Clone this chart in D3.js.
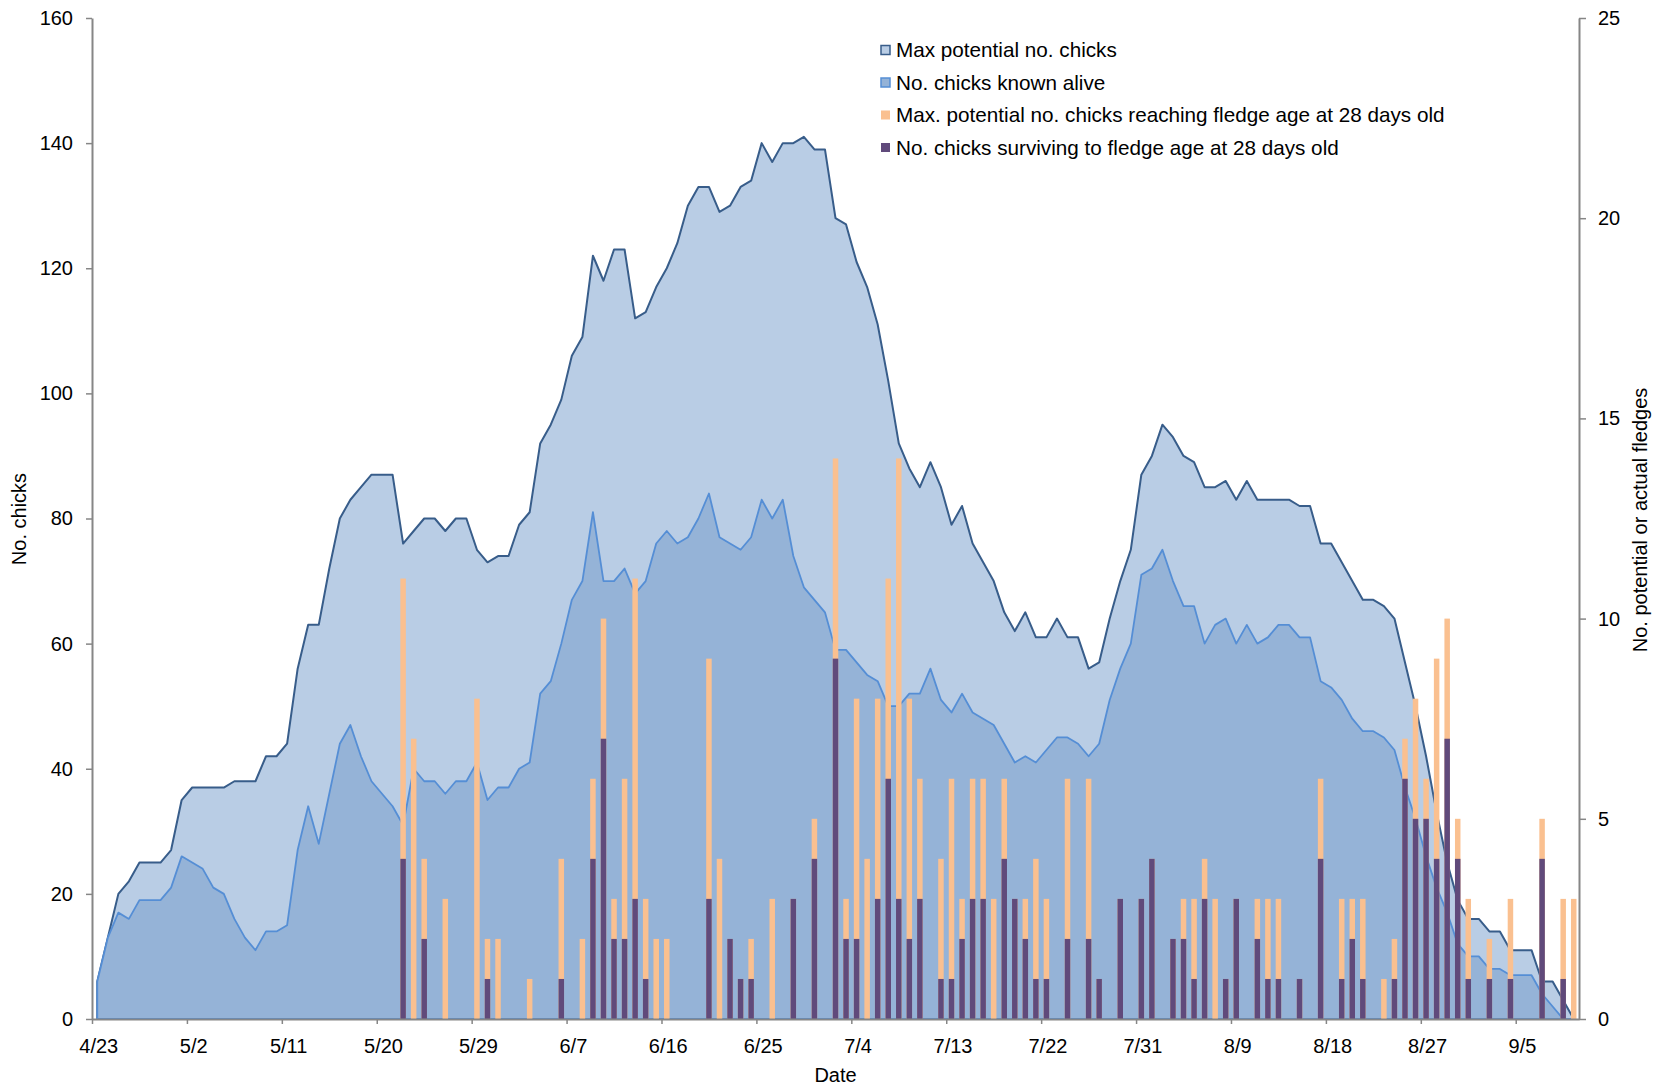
<!DOCTYPE html>
<html>
<head>
<meta charset="utf-8">
<script src="https://cdn.jsdelivr.net/npm/d3@7"></script>
<style>
  body { margin: 0; background: #fff; }
  text { font-family: Arial, "Liberation Sans", sans-serif; }
</style>
</head>
<body>
<script>
var svgWidth = 1662;
var svgHeight = 1087;

// one value per day, 4/23 .. 9/10
var maxChicks = [
  6, 13, 20, 22, 25, 25, 25, 27, 35, 37, 37, 37, 37, 38, 38, 38, 42, 42, 44, 56,
  63, 63, 72, 80, 83, 85, 87, 87, 87, 76, 78, 80, 80, 78, 80, 80, 75, 73, 74, 74,
  79, 81, 92, 95, 99, 106, 109, 122, 118, 123, 123, 112, 113, 117, 120, 124, 130, 133, 133, 129,
  130, 133, 134, 140, 137, 140, 140, 141, 139, 139, 128, 127, 121, 117, 111, 102, 92, 88, 85, 89,
  85, 79, 82, 76, 73, 70, 65, 62, 65, 61, 61, 64, 61, 61, 56, 57, 64, 70, 75, 87,
  90, 95, 93, 90, 89, 85, 85, 86, 83, 86, 83, 83, 83, 83, 82, 82, 76, 76, 73, 70,
  67, 67, 66, 64, 57, 50, 42, 33, 25, 19, 16, 16, 14, 14, 11, 11, 11, 6, 6, 3, 0
];
var aliveChicks = [
  6, 13, 17, 16, 19, 19, 19, 21, 26, 25, 24, 21, 20, 16, 13, 11, 14, 14, 15, 27,
  34, 28, 36, 44, 47, 42, 38, 36, 34, 31, 40, 38, 38, 36, 38, 38, 41, 35, 37, 37,
  40, 41, 52, 54, 60, 67, 70, 81, 70, 70, 72, 68, 70, 76, 78, 76, 77, 80, 84, 77,
  76, 75, 77, 83, 80, 83, 74, 69, 67, 65, 59, 59, 57, 55, 54, 50, 50, 52, 52, 56,
  51, 49, 52, 49, 48, 47, 44, 41, 42, 41, 43, 45, 45, 44, 42, 44, 51, 56, 60, 71,
  72, 75, 70, 66, 66, 60, 63, 64, 60, 63, 60, 61, 63, 63, 61, 61, 54, 53, 51, 48,
  46, 46, 45, 43, 37, 32, 26, 21, 17, 12, 10, 10, 8, 8, 7, 7, 7, 4, 2, 0, 0
];
var fledgeMax = [
  0, 0, 0, 0, 0, 0, 0, 0, 0, 0, 0, 0, 0, 0, 0, 0, 0, 0, 0, 0,
  0, 0, 0, 0, 0, 0, 0, 0, 0, 11, 7, 4, 0, 3, 0, 0, 8, 2, 2, 0,
  0, 1, 0, 0, 4, 0, 2, 6, 10, 3, 6, 11, 3, 2, 2, 0, 0, 0, 9, 4,
  2, 1, 2, 0, 3, 0, 3, 0, 5, 0, 14, 3, 8, 4, 8, 11, 14, 8, 6, 0,
  4, 6, 3, 6, 6, 3, 6, 3, 3, 4, 3, 0, 6, 0, 6, 1, 0, 3, 0, 3,
  4, 0, 2, 3, 3, 4, 3, 1, 3, 0, 3, 3, 3, 0, 1, 0, 6, 0, 3, 3,
  3, 0, 1, 2, 7, 8, 6, 9, 10, 5, 3, 0, 2, 0, 3, 0, 0, 5, 0, 3, 3
];
var fledgeActual = [
  0, 0, 0, 0, 0, 0, 0, 0, 0, 0, 0, 0, 0, 0, 0, 0, 0, 0, 0, 0,
  0, 0, 0, 0, 0, 0, 0, 0, 0, 4, 0, 2, 0, 0, 0, 0, 0, 1, 0, 0,
  0, 0, 0, 0, 1, 0, 0, 4, 7, 2, 2, 3, 1, 0, 0, 0, 0, 0, 3, 0,
  2, 1, 1, 0, 0, 0, 3, 0, 4, 0, 9, 2, 2, 0, 3, 6, 3, 2, 3, 0,
  1, 1, 2, 3, 3, 0, 4, 3, 2, 1, 1, 0, 2, 0, 2, 1, 0, 3, 0, 3,
  4, 0, 2, 2, 1, 3, 0, 1, 3, 0, 2, 1, 1, 0, 1, 0, 4, 0, 1, 2,
  1, 0, 0, 1, 6, 5, 5, 4, 7, 4, 1, 0, 1, 0, 1, 0, 0, 4, 0, 1, 0
];
var tickLabels = ["4/23", "5/2", "5/11", "5/20", "5/29", "6/7", "6/16", "6/25",
  "7/4", "7/13", "7/22", "7/31", "8/9", "8/18", "8/27", "9/5"];
var leftTicks = [0, 20, 40, 60, 80, 100, 120, 140, 160];
var rightTicks = [0, 5, 10, 15, 20, 25];
var legendNames = ["Max potential no. chicks", "No. chicks known alive",
  "Max. potential no. chicks reaching fledge age at 28 days old",
  "No. chicks surviving to fledge age at 28 days old"];

var startDate = new Date(Date.UTC(2010, 3, 23));
var endDate = new Date(Date.UTC(2010, 8, 11));
var days = d3.utcDay.range(startDate, endDate);

var plotLeft = 92, plotRight = 1579, plotTop = 18, plotBottom = 1019;

var svg = d3.select("body").append("svg").attr("width", svgWidth).attr("height", svgHeight);

var x = d3.scaleUtc().domain([startDate, endDate]).range([plotLeft, plotRight]);
var yLeft = d3.scaleLinear().domain([0, 160]).range([plotBottom, plotTop]);
var yRight = d3.scaleLinear().domain([0, 25]).range([plotBottom, plotTop]);

// categories sit in the middle of each day
function cx(i) { return x(d3.utcHour.offset(days[i], 12)); }
var halfDay = cx(0) - plotLeft;

var area = d3.area()
  .x(function(d, i) { return cx(i); })
  .y0(yLeft(0))
  .y1(function(d) { return yLeft(d); });

// max potential
svg.append("path")
  .attr("d", area(maxChicks))
  .attr("fill", "#b9cde5")
  .attr("stroke", "#385d8a")
  .attr("stroke-width", 2)
  .attr("stroke-linejoin", "round");

// known alive
svg.append("path")
  .attr("d", area(aliveChicks))
  .attr("fill", "#95b3d7")
  .attr("stroke", "#558ed5")
  .attr("stroke-width", 1.8)
  .attr("stroke-linejoin", "round");

// fledge bars, actual drawn over potential
var barW = 5.5;
var bars = svg.append("g");
[[fledgeMax, "#fac090"], [fledgeActual, "#604a7b"]].forEach(function(s) {
  s[0].forEach(function(v, i) {
    if (v > 0) {
      bars.append("rect")
        .attr("x", cx(i) - barW / 2)
        .attr("y", yRight(v))
        .attr("width", barW)
        .attr("height", yRight(0) - yRight(v))
        .attr("fill", s[1]);
    }
  });
});

// axes
var xAxis = d3.axisBottom(x)
  .tickValues(tickLabels.map(function(t, k) { return days[k * 9]; }))
  .tickFormat(function(d, k) { return tickLabels[k]; })
  .tickSizeInner(5).tickSizeOuter(0).tickPadding(15);
var gx = svg.append("g").attr("transform", "translate(0," + plotBottom + ")").call(xAxis);
gx.selectAll(".tick text").attr("dx", halfDay + 1);

var gl = svg.append("g").attr("transform", "translate(" + plotLeft + ",0)")
  .call(d3.axisLeft(yLeft).tickValues(leftTicks).tickSizeInner(6).tickSizeOuter(0).tickPadding(13));

var gr = svg.append("g").attr("transform", "translate(" + plotRight + ",0)")
  .call(d3.axisRight(yRight).tickValues(rightTicks).tickSizeInner(7).tickSizeOuter(0).tickPadding(12));

[gx, gl, gr].forEach(function(g) {
  g.select(".domain").attr("stroke", "#868686").attr("stroke-width", 2);
  g.selectAll(".tick line").attr("stroke", "#868686").attr("stroke-width", 1.5);
  g.selectAll(".tick text").attr("font-size", 20).attr("fill", "#000")
    .attr("font-family", "Arial, 'Liberation Sans', sans-serif");
});

// axis titles
svg.append("text")
  .attr("transform", "translate(26,519) rotate(-90)")
  .attr("text-anchor", "middle")
  .attr("font-size", 20)
  .text("No. chicks");

svg.append("text")
  .attr("transform", "translate(1647,520) rotate(-90)")
  .attr("text-anchor", "middle")
  .attr("font-size", 20)
  .text("No. potential or actual fledges");

svg.append("text")
  .attr("x", (plotLeft + plotRight) / 2)
  .attr("y", 1082)
  .attr("text-anchor", "middle")
  .attr("font-size", 20)
  .text("Date");

// legend
var legendFill = ["#b9cde5", "#95b3d7", "#fac090", "#604a7b"];
var legendStroke = ["#385d8a", "#558ed5", null, null];
var legend = svg.append("g").attr("transform", "translate(880,50)");
legendNames.forEach(function(name, k) {
  var row = legend.append("g").attr("transform", "translate(0," + (k * 32.5) + ")");
  row.append("rect")
    .attr("x", 1).attr("y", -4.5)
    .attr("width", 9).attr("height", 9)
    .attr("fill", legendFill[k])
    .attr("stroke", legendStroke[k] || "none")
    .attr("stroke-width", 1.5);
  row.append("text")
    .attr("x", 16).attr("y", 0)
    .attr("dy", "0.35em")
    .attr("font-size", 20.7)
    .text(name);
});
</script>
</body>
</html>
